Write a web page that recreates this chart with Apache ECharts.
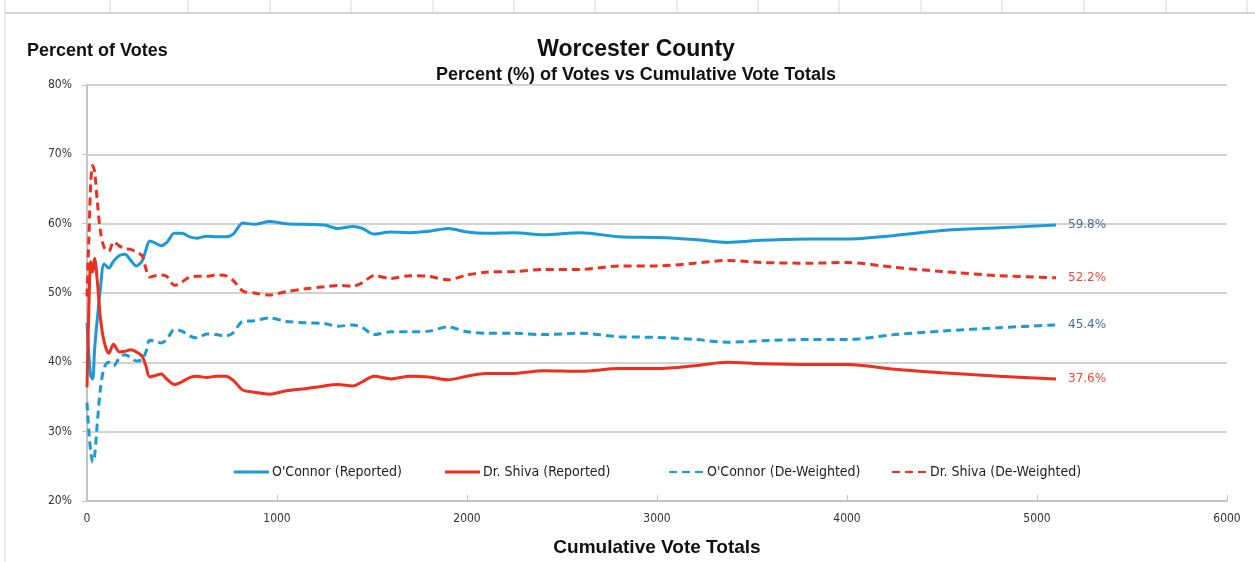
<!DOCTYPE html>
<html>
<head>
<meta charset="utf-8">
<script src="https://cdn.jsdelivr.net/npm/echarts@6/dist/echarts.min.js"></script>
<style>
  html, body { margin: 0; padding: 0; background: #fff; }
  #chart { width: 1255px; height: 562px; }
</style>
</head>
<body>
<div id="chart"></div>
<script>
// cumulative vote totals (x)
var voteTotals = [0, 10, 20, 30, 40, 55, 70, 90, 115, 140, 170, 200, 230, 260, 290, 310, 330, 360, 390, 420,
  460, 500, 540, 580, 630, 680, 730, 770, 820, 880, 960, 1050, 1150, 1250, 1320, 1400, 1450, 1510, 1600, 1700,
  1800, 1900, 2000, 2100, 2250, 2400, 2600, 2800, 3000, 3200, 3370, 3550, 3800, 4000, 4250, 4500, 4800, 5100];

// percent of votes
var oconnorReported = [45.7, 41, 38, 37.6, 41.9, 46.5, 50.5, 54.2, 53.6, 54.6, 55.4, 55.6, 54.7, 53.9, 54.6, 56.2, 57.5, 57.2, 56.8, 57.3,
  58.6, 58.6, 58.1, 57.9, 58.2, 58.1, 58.1, 58.5, 60.1, 59.9, 60.3, 60.0, 59.9, 59.8, 59.3, 59.6, 59.3, 58.5, 58.8, 58.7,
  58.9, 59.3, 58.8, 58.6, 58.7, 58.4, 58.7, 58.1, 58.0, 57.7, 57.3, 57.6, 57.8, 57.8, 58.3, 59.0, 59.4, 59.8];
var shivaReported = [36.4, 48, 54.5, 53, 55.0, 51.5, 46.5, 43.0, 41.3, 42.6, 41.5, 41.6, 41.8, 41.5, 40.9, 39.5, 37.9, 38.1, 38.3, 37.6,
  36.8, 37.2, 37.8, 38.0, 37.8, 38.0, 38.0, 37.4, 36.0, 35.7, 35.4, 35.9, 36.2, 36.6, 36.8, 36.6, 37.2, 38.0, 37.6, 38.0,
  37.9, 37.5, 38.0, 38.4, 38.4, 38.8, 38.7, 39.1, 39.1, 39.5, 40.0, 39.8, 39.7, 39.7, 39.0, 38.5, 38.0, 37.6];
var oconnorDeweighted = [34.2, 30, 27, 25.6, 26.5, 31.5, 36, 39.2, 40.0, 39.5, 40.6, 41.1, 40.7, 40.2, 40.4, 41.5, 43.2, 43.0, 42.8, 43.3,
  44.7, 44.5, 43.8, 43.5, 44.1, 44.0, 43.8, 44.3, 45.9, 46.0, 46.4, 45.9, 45.7, 45.6, 45.2, 45.4, 45.0, 44.0, 44.4, 44.4,
  44.5, 45.1, 44.4, 44.2, 44.2, 44.0, 44.2, 43.7, 43.6, 43.3, 42.9, 43.1, 43.3, 43.3, 44.0, 44.5, 45.0, 45.4];
var shivaDeweighted = [49.5, 58, 66, 68.4, 67.5, 63, 59, 56.6, 56.0, 57.4, 56.8, 56.4, 56.3, 55.9, 55.4, 53.5, 52.3, 52.5, 52.6, 52.4,
  51.1, 51.6, 52.3, 52.4, 52.4, 52.6, 52.5, 51.8, 50.3, 50.0, 49.7, 50.2, 50.6, 50.9, 51.1, 51.0, 51.5, 52.5, 52.1, 52.5,
  52.4, 51.9, 52.6, 53.0, 53.1, 53.4, 53.4, 53.9, 53.9, 54.3, 54.7, 54.4, 54.3, 54.4, 53.7, 53.1, 52.5, 52.2];

var seriesNames = ["O'Connor (Reported)", "Dr. Shiva (Reported)", "O'Connor (De-Weighted)", "Dr. Shiva (De-Weighted)"];
var xTicks = [0, 1000, 2000, 3000, 4000, 5000, 6000];
var yTicks = [20, 30, 40, 50, 60, 70, 80];

var blue = '#1b9ad8';
var red = '#ee2f1f';
var narrow = "'DejaVu Sans Condensed', 'DejaVu Sans', sans-serif";
var boldFont = "'Liberation Sans', Arial, sans-serif";

function pairs (ys) {
  return voteTotals.map(function (x, i) { return [x, ys[i]]; });
}

function makeSeries (name, ys, color, dashed, labelColor) {
  return {
    name: name,
    type: 'line',
    data: pairs(ys),
    smooth: 0.3,
    symbol: 'none',
    lineStyle: { color: color, width: 3, type: dashed ? [8, 5] : 'solid' },
    itemStyle: { color: color },
    endLabel: {
      show: true,
      distance: 12,
      color: labelColor,
      fontSize: 12,
      fontFamily: "'DejaVu Sans', sans-serif",
      formatter: function (p) { return p.value[1].toFixed(1) + '%'; }
    }
  };
}

function makeLegend (name, left, dashed) {
  return {
    data: [name],
    left: left,
    top: 460,
    itemWidth: 35,
    itemHeight: 3,
    itemGap: 0,
    icon: dashed ? undefined : 'rect',
    textStyle: { fontSize: 14, color: '#222', fontFamily: narrow, padding: [0, 0, 0, -2] }
  };
}

var chart = echarts.init(document.getElementById('chart'));
chart.setOption({
  animation: false,
  backgroundColor: '#fff',
  title: [
    {
      text: 'Worcester County',
      subtext: 'Percent (%) of Votes vs Cumulative Vote Totals',
      left: 631, textAlign: 'center', top: 33, itemGap: 5,
      textStyle: { fontSize: 23, fontWeight: 'bold', color: '#111', fontFamily: boldFont },
      subtextStyle: { fontSize: 18, fontWeight: 'bold', color: '#111', fontFamily: boldFont }
    },
    {
      text: 'Percent of Votes',
      left: 22, top: 37,
      textStyle: { fontSize: 18, fontWeight: 'bold', color: '#111', fontFamily: boldFont }
    }
  ],
  legend: [
    makeLegend(seriesNames[0], 229, false),
    makeLegend(seriesNames[1], 440, false),
    makeLegend(seriesNames[2], 663, true),
    makeLegend(seriesNames[3], 886, true)
  ],
  grid: { left: 87, right: 28, top: 85, bottom: 58, containLabel: false },
  xAxis: {
    type: 'value',
    min: xTicks[0], max: xTicks[xTicks.length - 1], interval: 1000,
    name: 'Cumulative Vote Totals',
    nameLocation: 'middle', nameGap: 37,
    nameTextStyle: { fontSize: 19, fontWeight: 'bold', color: '#111', fontFamily: boldFont },
    axisLine: { lineStyle: { color: '#c4c4c4', width: 2 } },
    axisTick: { inside: true, length: 6, lineStyle: { color: '#c4c4c4' } },
    axisLabel: { color: '#333', fontSize: 12, margin: 12, fontFamily: narrow, formatter: function (v) { return String(v); } },
    splitLine: { show: false }
  },
  yAxis: {
    type: 'value',
    min: yTicks[0], max: yTicks[yTicks.length - 1], interval: 10,
    axisLine: { show: true, lineStyle: { color: '#c4c4c4', width: 2 } },
    axisTick: { show: true, length: 5, lineStyle: { color: '#c4c4c4' } },
    axisLabel: { color: '#333', fontSize: 12, margin: 15, formatter: '{value}%', fontFamily: narrow },
    splitLine: { lineStyle: { color: '#d2d2d2', width: 2 } }
  },
  series: [
    makeSeries(seriesNames[0], oconnorReported, blue, false, '#4a6a9c'),
    makeSeries(seriesNames[1], shivaReported, red, false, '#f0473c'),
    makeSeries(seriesNames[2], oconnorDeweighted, blue, true, '#4a6a9c'),
    makeSeries(seriesNames[3], shivaDeweighted, red, true, '#f0473c')
  ],
  graphic: [
    // spreadsheet frame around the chart
    { type: 'line', shape: { x1: 5, y1: 13, x2: 1255, y2: 13 }, style: { stroke: '#d4d4d4', lineWidth: 2 } },
    { type: 'line', shape: { x1: 5, y1: 0, x2: 5, y2: 562 }, style: { stroke: '#d8d8d8', lineWidth: 1 } },
    { type: 'group', children: [110, 188, 270, 351, 433, 514, 595, 677, 758, 839, 921, 1002, 1084, 1166, 1247].map(function (x) {
      return { type: 'line', shape: { x1: x, y1: 0, x2: x, y2: 12 }, style: { stroke: '#d8d8d8', lineWidth: 1 } };
    }) }
  ]
});
</script>
</body>
</html>
